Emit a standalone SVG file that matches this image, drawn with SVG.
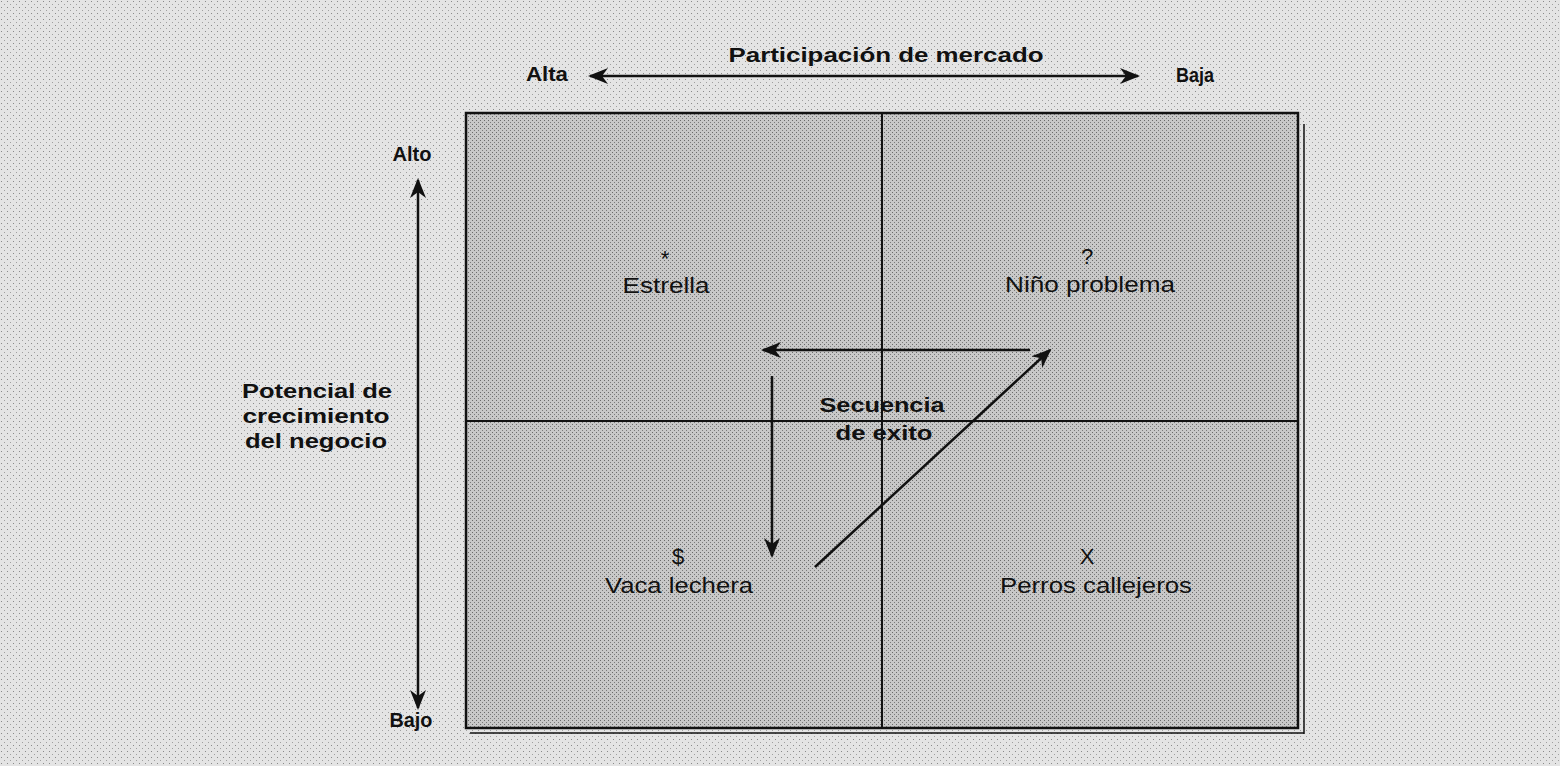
<svg xmlns="http://www.w3.org/2000/svg" width="1560" height="766" viewBox="0 0 1560 766">
<defs>
<style>
.t{font-family:"Liberation Sans",Arial,sans-serif;font-size:22px;fill:#111;text-anchor:middle}
.b{font-weight:bold;font-size:21px}
.ln{stroke:#111;stroke-width:2.5;fill:none}
.ar{stroke:#111;stroke-width:2.5;fill:none}
</style>
<marker id="ah" viewBox="0 0 20 16" refX="18" refY="8" markerWidth="20" markerHeight="16" markerUnits="userSpaceOnUse" orient="auto-start-reverse">
<path d="M0,0 L20,8 L0,16 L6,8 Z" fill="#111"/>
</marker>
<pattern id="dots" width="6" height="6" patternUnits="userSpaceOnUse">
<rect width="6" height="6" fill="#e4e4e4"/>
<rect x="1" y="1" width="1" height="1" fill="#8a8a8a"/>
<rect x="4" y="4" width="1" height="1" fill="#a0a0a0"/>
</pattern>
<pattern id="dots2" width="4" height="4" patternUnits="userSpaceOnUse">
<rect width="4" height="4" fill="#c8c8c8"/>
<rect x="0" y="0" width="1" height="1" fill="#6a6a6a"/>
<rect x="2" y="2" width="1" height="1" fill="#7a7a7a"/>
</pattern>
</defs>
<rect width="1560" height="766" fill="url(#dots)"/>
<g id="matrix">
<rect x="466" y="113" width="832" height="615" fill="url(#dots2)"/>
<rect x="466" y="113" width="832" height="615" class="ln"/>
<line x1="1304" y1="124" x2="1304" y2="734" class="ln" style="stroke-width:1.5"/>
<line x1="470" y1="733" x2="1304" y2="733" class="ln" style="stroke-width:1.5"/>
<line x1="882" y1="113" x2="882" y2="728" class="ln" style="stroke-width:2"/>
<line x1="466" y1="421" x2="1298" y2="421" class="ln" style="stroke-width:2"/>
</g>
<g id="axis-x">
<text class="t b" x="886" y="62" textLength="315" lengthAdjust="spacingAndGlyphs">Participación de mercado</text>
<text class="t b" x="547" y="81" textLength="42" lengthAdjust="spacingAndGlyphs">Alta</text>
<text class="t b" x="1195" y="82" textLength="38" lengthAdjust="spacingAndGlyphs">Baja</text>
</g>
<g id="axis-y">
<text class="t b" x="412" y="161" textLength="39" lengthAdjust="spacingAndGlyphs">Alto</text>
<text class="t b" x="411" y="727" textLength="43" lengthAdjust="spacingAndGlyphs">Bajo</text>
<text class="t b" x="317" y="398" textLength="150" lengthAdjust="spacingAndGlyphs">Potencial de</text>
<text class="t b" x="316" y="423" textLength="147" lengthAdjust="spacingAndGlyphs">crecimiento</text>
<text class="t b" x="316" y="448" textLength="142" lengthAdjust="spacingAndGlyphs">del negocio</text>
</g>
<g id="estrella">
<text class="t" x="665" y="266">*</text>
<text class="t" x="666" y="293" textLength="87" lengthAdjust="spacingAndGlyphs">Estrella</text>
</g>
<g id="nino-problema">
<text class="t" x="1087" y="264">?</text>
<text class="t" x="1090" y="292" textLength="170" lengthAdjust="spacingAndGlyphs">Niño problema</text>
</g>
<g id="vaca-lechera">
<text class="t" x="678" y="564">$</text>
<text class="t" x="679" y="593" textLength="148" lengthAdjust="spacingAndGlyphs">Vaca lechera</text>
</g>
<g id="perros-callejeros">
<text class="t" x="1087" y="564">X</text>
<text class="t" x="1096" y="593" textLength="192" lengthAdjust="spacingAndGlyphs">Perros callejeros</text>
</g>
<g id="secuencia">
<text class="t b" x="882" y="412" textLength="125" lengthAdjust="spacingAndGlyphs">Secuencia</text>
<text class="t b" x="884" y="440" textLength="97" lengthAdjust="spacingAndGlyphs">de exito</text>
</g>
<g id="connectors">
<line x1="590" y1="76" x2="1138" y2="76" class="ar" marker-start="url(#ah)" marker-end="url(#ah)"/>
<line x1="418" y1="180" x2="418" y2="708" class="ar" marker-start="url(#ah)" marker-end="url(#ah)"/>
<line x1="1030" y1="350" x2="763" y2="350" class="ar" marker-end="url(#ah)"/>
<line x1="772" y1="376" x2="772" y2="556" class="ar" marker-end="url(#ah)"/>
<line x1="815" y1="567" x2="1050" y2="350" class="ar" marker-end="url(#ah)"/>
</g>
</svg>
